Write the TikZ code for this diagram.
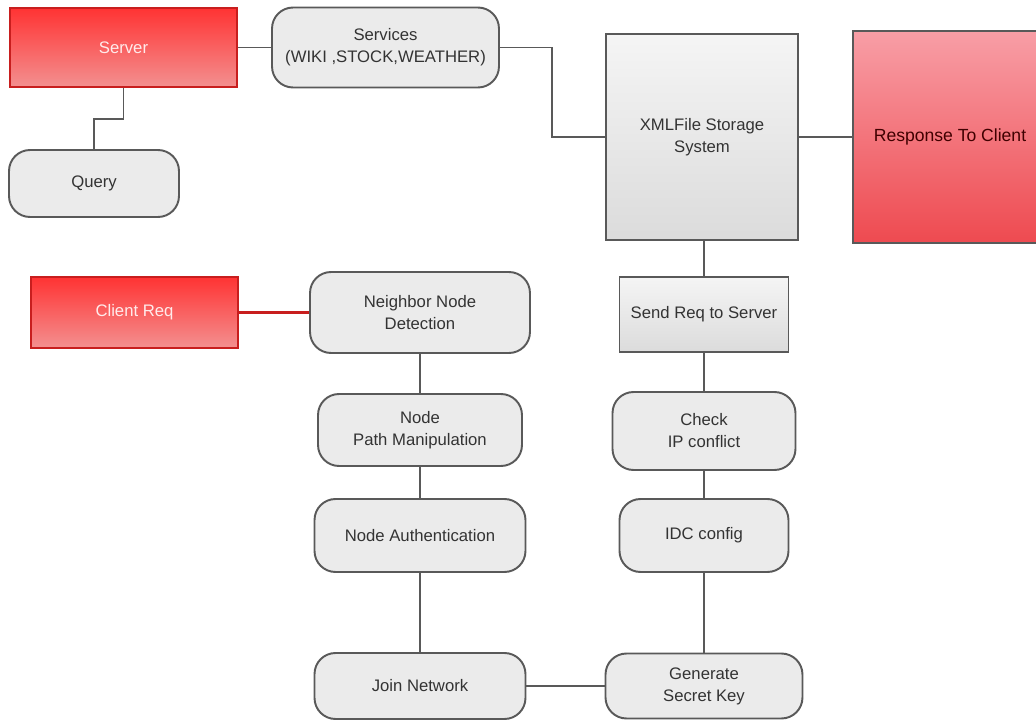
\documentclass[tikz,border=0pt]{standalone}
\usepackage{fontspec}
\setmainfont{Liberation Sans}
\usetikzlibrary{positioning}
\definecolor{linegray}{HTML}{595959}
\definecolor{textgray}{HTML}{333333}
\definecolor{redtop}{HTML}{FF3333}
\definecolor{redbot}{HTML}{F39090}
\definecolor{redline}{HTML}{C81E1E}
\definecolor{pinktop}{HTML}{F89EA6}
\definecolor{pinkbot}{HTML}{EE4A50}
\tikzset{%
  % Specifications for style of nodes:
            base/.style = {rectangle, draw=linegray, line width=1.1pt,
                           text centered, align=center, text=textgray,
                           font=\fontsize{9.5}{12.5}\selectfont, inner sep=2pt},
       roundbox/.style = {base, rounded corners=0.42cm, fill=black!8},
        graybox/.style = {base, top color=black!4, bottom color=black!14},
         redbox/.style = {base, draw=redline, line width=0.8pt,
                          top color=redtop, bottom color=redbot, text=red!8},
        pinkbox/.style = {base, top color=pinktop, bottom color=pinkbot,
                          text=black!75!red},
      connector/.style = {draw=linegray, line width=1.1pt},
}

\begin{document}
\begin{tikzpicture}[x=0.02cm, y=-0.02cm]
  \useasboundingbox (0,0) rectangle (1036,720);
  \clip (0,0) rectangle (1036,720);
  % Specification of nodes (position, etc.)

  \node (server)     [redbox, minimum width=4.54cm, minimum height=1.58cm]   at (123.5,47.5) {Server};
  \node (services)   [roundbox, minimum width=4.54cm, minimum height=1.6cm]  at (385.5,47.5) {Services\\(WIKI ,STOCK,WEATHER)};
  \node (query)      [roundbox, minimum width=3.4cm, minimum height=1.34cm]  at (94,183.5)   {Query};
  \node (xml)        [graybox, minimum width=3.84cm, minimum height=4.12cm]  at (702,137)    {XMLFile Storage\\System};
  \node (response)   [pinkbox, minimum width=3.88cm, minimum height=4.24cm]  at (950,137)    {\fontsize{10}{12.5}\selectfont Response To Client};
  \node (clientreq)  [redbox, minimum width=4.14cm, minimum height=1.42cm]   at (134.5,312.5) {Client Req};
  \node (neighbor)   [roundbox, minimum width=4.4cm, minimum height=1.62cm]  at (420,312.5)  {Neighbor Node\\Detection};
  \node (nodepath)   [roundbox, minimum width=4.08cm, minimum height=1.44cm] at (420,430)    {Node\\Path Manipulation};
  \node (nodeauth)   [roundbox, minimum width=4.22cm, minimum height=1.46cm] at (420,535.5)  {Node Authentication};
  \node (join)       [roundbox, minimum width=4.22cm, minimum height=1.32cm] at (420,686)    {Join Network};
  \node (sendreq)    [graybox, minimum width=3.38cm, minimum height=1.5cm]   at (704,314.5)  {Send Req to Server};
  \node (checkip)    [roundbox, minimum width=3.66cm, minimum height=1.56cm] at (704,431)    {Check\\IP conflict};
  \node (idc)        [roundbox, minimum width=3.38cm, minimum height=1.46cm] at (704,535.5)  {IDC config};
  \node (secretkey)  [roundbox, minimum width=3.94cm, minimum height=1.3cm]  at (704,686)    {Generate\\Secret Key};

  \draw[connector]  (server) -- (services);
  \draw[connector]  (server.south) -- ++(0,31) -| (query.north);
  \draw[connector]  (services.east) -- ++(52,0) |- (xml.west);
  \draw[connector]  (xml) -- (response);
  \draw[connector]  (sendreq.north) -- (sendreq.north |- xml.south);
  \draw[connector]  (sendreq) -- (checkip);
  \draw[connector]  (checkip) -- (idc);
  \draw[connector]  (idc) -- (secretkey);
  \draw[draw=redline, line width=1.3pt] (clientreq) -- (neighbor);
  \draw[connector]  (neighbor) -- (nodepath);
  \draw[connector]  (nodepath) -- (nodeauth);
  \draw[connector]  (nodeauth) -- (join);
  \draw[connector]  (join) -- (secretkey);
\end{tikzpicture}
\end{document}
